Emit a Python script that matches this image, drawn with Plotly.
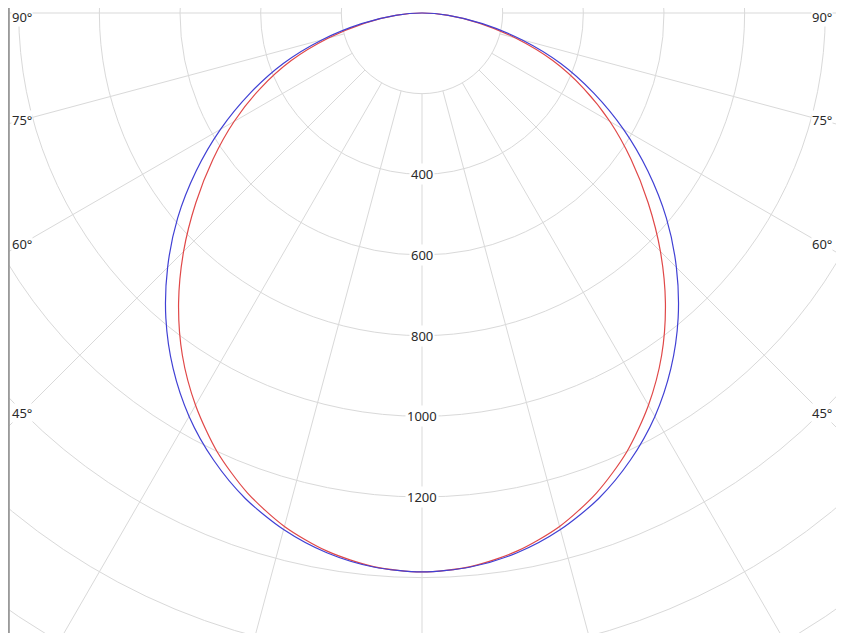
import numpy as np
import plotly.graph_objects as go

# gamma angles (deg from nadir) and intensities (cd)
angles_deg = [0, 5, 10, 15, 20, 25, 30, 35, 40, 45, 50, 55, 60, 65, 70, 75, 80, 85, 90]
c0_c180_cd = [1386, 1379, 1359, 1326, 1281, 1223, 1155, 1076, 988, 892, 791, 684, 577, 470, 366, 256, 152, 66, 0]
c90_c270_cd = [1386, 1378, 1355, 1318, 1266, 1201, 1123, 1036, 939, 836, 732, 633, 538, 442, 345, 240, 144, 62, 0]

grid_radii = [200, 400, 600, 800, 1000, 1200, 1400, 1600, 1800]
radius_labels = [400, 600, 800, 1000, 1200]
spoke_angles = [-90, -75, -60, -45, -30, -15, 0, 15, 30, 45, 60, 75, 90]
angle_labels = [90, 75, 60, 45]

PX_PER_CD = 0.4033
W, H = 844, 633
PAGE_PAD = 8            # browser body margin shifts the figure
CX, CY = 422 - PAGE_PAD, 13 - PAGE_PAD   # pole position in figure pixels
X_LEFT = -CX / PX_PER_CD
X_RIGHT = (W - CX) / PX_PER_CD
Y_TOP = CY / PX_PER_CD
Y_BOT = -(H - CY) / PX_PER_CD

GRID = "#d9d9d9"
TEXT = "#2a2a2a"
FONT = "Noto Sans"


def _curve(cd):
    # mirror one half-plane onto both sides of nadir
    ang = np.radians(np.array([-a for a in angles_deg[::-1]] + angles_deg[1:]))
    r = np.array(cd[::-1] + cd[1:], dtype=float)
    return r * np.sin(ang), -r * np.cos(ang)


fig = go.Figure()

x, y = _curve(c90_c270_cd)
fig.add_trace(go.Scatter(x=x, y=y, mode="lines",
                         line=dict(color="#e04848", width=1.2, shape="spline", smoothing=0.8),
                         name="C90-C270", hoverinfo="skip"))
x, y = _curve(c0_c180_cd)
fig.add_trace(go.Scatter(x=x, y=y, mode="lines",
                         line=dict(color="#4040d4", width=1.2, shape="spline", smoothing=0.8),
                         name="C0-C180", hoverinfo="skip"))

shapes = []
for r in grid_radii:
    shapes.append(dict(type="circle", xref="x", yref="y", x0=-r, x1=r, y0=-r, y1=r,
                       line=dict(color=GRID, width=1), layer="below"))
for a in spoke_angles:
    t = np.radians(a)
    r0, r1 = grid_radii[0], 3000
    shapes.append(dict(type="line", xref="x", yref="y",
                       x0=r0 * np.sin(t), y0=-r0 * np.cos(t),
                       x1=r1 * np.sin(t), y1=-r1 * np.cos(t),
                       line=dict(color=GRID, width=1), layer="below"))
# frame edges
for xp in (0.001, (W - PAGE_PAD - 1) / W):
    shapes.append(dict(type="line", xref="paper", yref="paper", x0=xp, x1=xp, y0=0, y1=1,
                       line=dict(color="#9a9a9a", width=2)))

annotations = []
for r in radius_labels:
    annotations.append(dict(x=0, y=-r, xref="x", yref="y", text=str(r), showarrow=False,
                            font=dict(family=FONT, size=13, color=TEXT),
                            bgcolor="white", borderpad=1))
lab_dx = 400 / PX_PER_CD
for a in angle_labels:
    yy = 0 if a == 90 else -lab_dx / np.tan(np.radians(a))
    for side in (-1, 1):
        annotations.append(dict(x=side * lab_dx, y=yy, xref="x", yref="y", text=f"{a}°",
                                showarrow=False, font=dict(family=FONT, size=13, color=TEXT),
                                bgcolor="white", borderpad=0,
                                yshift=-4 if a == 90 else 0))

fig.update_layout(
    width=W, height=H,
    margin=dict(l=0, r=0, t=0, b=0),
    paper_bgcolor="white", plot_bgcolor="white",
    showlegend=False,
    xaxis=dict(range=[X_LEFT, X_RIGHT], visible=False, fixedrange=True),
    yaxis=dict(range=[Y_BOT, Y_TOP], visible=False, fixedrange=True),
    shapes=shapes,
    annotations=annotations,
)

fig.write_html("out.html", config={"displayModeBar": False})
